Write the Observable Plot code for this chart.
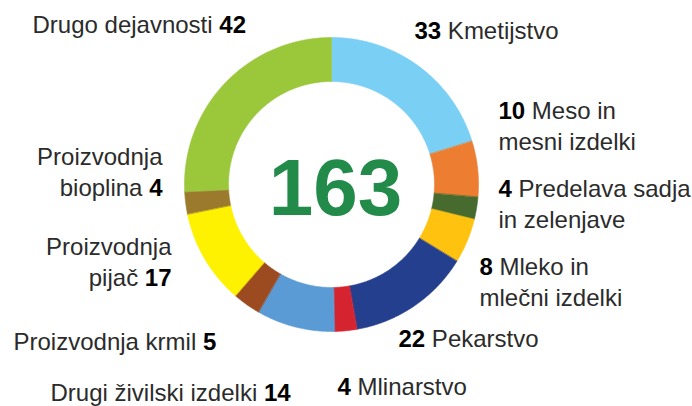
<!DOCTYPE html>
<html>
<head>
<meta charset="utf-8">
<script src="https://cdn.jsdelivr.net/npm/d3@7"></script>
<script src="https://cdn.jsdelivr.net/npm/@observablehq/plot@0.6"></script>
<style>
  html, body { margin: 0; padding: 0; background: #fff; }
  #chart { width: 692px; height: 406px; }
</style>
</head>
<body>
<div id="chart"></div>
<script>
// ---- data ----
const categories = [
  "Kmetijstvo", "Meso in mesni izdelki", "Predelava sadja in zelenjave",
  "Mleko in mlečni izdelki", "Pekarstvo", "Mlinarstvo", "Drugi živilski izdelki",
  "Proizvodnja krmil", "Proizvodnja pijač", "Proizvodnja bioplina", "Drugo dejavnosti"
];
const values = [33, 10, 4, 8, 22, 4, 14, 5, 17, 4, 42];
const nameLines = [
  ["Kmetijstvo"], ["Meso in", "mesni izdelki"], ["Predelava sadja", "in zelenjave"],
  ["Mleko in", "mlečni izdelki"], ["Pekarstvo"], ["Mlinarstvo"], ["Drugi živilski izdelki"],
  ["Proizvodnja krmil"], ["Proizvodnja", "pijač"], ["Proizvodnja", "bioplina"], ["Drugo dejavnosti"]
];
const numberFirst = [true, true, true, true, true, true, false, false, false, false, false];
const colors = [
  "#7ACFF5", "#ED7D31", "#476B2E", "#FFC20E", "#253F8F", "#D5232F",
  "#5B9BD5", "#9C4A1F", "#FFF200", "#9C7A2D", "#9BC83B"
];

// ---- layout ----
const cx = 331, cy = 184, rOuter = 147, rInner = 103;
const labelLayout = [
  {x: 414, y: 16, anchor: "start"},
  {x: 498, y: 96, anchor: "start"},
  {x: 498, y: 174, anchor: "start"},
  {x: 479, y: 252, anchor: "start"},
  {x: 398, y: 324, anchor: "start"},
  {x: 337, y: 372, anchor: "start"},
  {x: 50,  y: 378, anchor: "start"},
  {x: 13,  y: 327, anchor: "start"},
  {x: 171, y: 232, anchor: "end"},
  {x: 162, y: 142, anchor: "end"},
  {x: 32,  y: 10,  anchor: "start"}
];

// ---- build arcs ----
const arcs = d3.pie().sort(null).value(d => d)(values);
const pts = [];
arcs.forEach((a, i) => {
  const step = Math.PI / 360;
  const n = Math.max(2, Math.ceil((a.endAngle - a.startAngle) / step));
  const outer = [], inner = [];
  for (let k = 0; k <= n; k++) {
    const t = a.startAngle + (a.endAngle - a.startAngle) * k / n;
    outer.push({x: cx + rOuter * Math.sin(t), y: cy - rOuter * Math.cos(t)});
    inner.push({x: cx + rInner * Math.sin(t), y: cy - rInner * Math.cos(t)});
  }
  inner.reverse();
  for (const p of outer.concat(inner)) pts.push({...p, cat: categories[i], color: colors[i]});
});

const labels = categories.map((c, i) => {
  const lines = nameLines[i].slice();
  if (numberFirst[i]) lines[0] = values[i] + " " + lines[0];
  else lines[lines.length - 1] = lines[lines.length - 1] + " " + values[i];
  return {text: lines.join("\n"), ...labelLayout[i]};
});

const total = d3.sum(values);

const chart = Plot.plot({
  width: 692,
  height: 406,
  margin: 0,
  style: {background: "#fff", fontFamily: "'Liberation Sans', Arial, sans-serif"},
  x: {domain: [0, 692], range: [0, 692], axis: null},
  y: {domain: [0, 406], range: [0, 406], axis: null},
  color: {type: "identity"},
  marks: [
    Plot.line(pts, {x: "x", y: "y", z: "cat", fill: "color", stroke: "color", strokeWidth: 0.6, curve: "linear-closed"}),
    Plot.text([{x: cx + 4, y: cy + 5, t: String(total)}], {
      x: "x", y: "y", text: "t", fontSize: 80, fontWeight: "bold", fill: "#228B4A", textAnchor: "middle"
    }),
    Plot.text(labels.filter(d => d.anchor === "start"), {
      x: "x", y: "y", text: "text", textAnchor: "start", lineAnchor: "top",
      fontSize: 24, lineHeight: 1.3, fill: "#2b2b2b"
    }),
    Plot.text(labels.filter(d => d.anchor === "end"), {
      x: "x", y: "y", text: "text", textAnchor: "end", lineAnchor: "top",
      fontSize: 24, lineHeight: 1.3, fill: "#2b2b2b"
    })
  ]
});

document.getElementById("chart").appendChild(chart);

// make the numbers in labels bold
d3.select(chart).selectAll("g[aria-label='text'] text").each(function () {
  const el = this;
  if (el.textContent === String(total)) return;
  const targets = el.querySelectorAll("tspan").length ? Array.from(el.querySelectorAll("tspan")) : [el];
  targets.forEach(t => {
    const s = t.textContent;
    if (!/\d/.test(s)) return;
    t.textContent = "";
    s.split(/(\d+)/).forEach(part => {
      if (!part) return;
      const sp = document.createElementNS("http://www.w3.org/2000/svg", "tspan");
      sp.textContent = part;
      if (/^\d+$/.test(part)) { sp.setAttribute("font-weight", "bold"); sp.setAttribute("fill", "#000"); }
      t.appendChild(sp);
    });
  });
});
</script>
</body>
</html>
